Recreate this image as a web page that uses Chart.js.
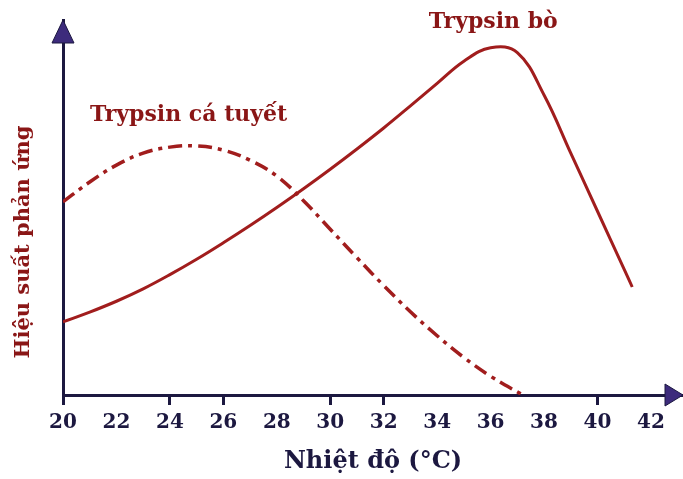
<!DOCTYPE html>
<html>
<head>
<meta charset="utf-8">
<script src="https://cdn.jsdelivr.net/npm/chart.js@4/dist/chart.umd.min.js"></script>
<style>
  html, body { margin: 0; padding: 0; background: #fff; }
  #wrap { width: 683px; height: 479px; }
</style>
</head>
<body>
<div id="wrap"><canvas id="grafico"></canvas></div>
<script>
// Datos
const nhietDoBo = [20, 21, 22, 23, 24, 25, 26, 27, 28, 29, 30, 31, 32, 33, 34, 35, 36, 37, 38, 39, 40, 41, 41.3];
const hieuSuatBo = [19.5, 22.1, 25, 28.3, 32.1, 36.2, 40.6, 45.2, 50, 55, 60.2, 65.6, 71.2, 77.1, 83.1, 89, 92.6, 91.3, 80, 64.5, 49, 33.5, 28.8];

const nhietDoCa = [20, 21, 22, 23, 24, 25, 26, 27, 28, 29, 30, 31, 32, 33, 34, 35, 36, 37.2];
const hieuSuatCa = [51.5, 56.8, 61.3, 64.5, 66.1, 66.4, 65.3, 62.6, 58.4, 51.8, 44.2, 36.6, 29.2, 22.2, 15.8, 10, 5, 0];

const ticksX = [20, 22, 24, 26, 28, 30, 32, 34, 36, 38, 40, 42];
const vachX = [20, 24, 26, 30, 32, 40];

const nhanDuong = [
  { text: 'Trypsin bò', x: 36.1, y: 99.5 },
  { text: 'Trypsin cá tuyết', x: 24.7, y: 74.7 }
];
const tieuDeY = 'Hiệu suất phản ứng';

const mauDuong = '#a11d1d';
const mauChu = '#8a1616';
const mauTruc = '#1c1840';
const mauMuiTen = '#3d2b7c';
const fontSerif = '"DejaVu Serif", "Liberation Serif", serif';

const muiTen = {
  id: 'muiTen',
  afterDraw(chart) {
    const { ctx, chartArea } = chart;
    ctx.save();
    ctx.fillStyle = mauMuiTen;
    ctx.strokeStyle = mauTruc;
    ctx.lineWidth = 1;
    // flecha eje Y
    ctx.beginPath();
    ctx.moveTo(chartArea.left, chartArea.top);
    ctx.lineTo(chartArea.left - 11, chartArea.top + 23);
    ctx.lineTo(chartArea.left + 11, chartArea.top + 23);
    ctx.closePath();
    ctx.fill();
    ctx.stroke();
    // flecha eje X
    ctx.beginPath();
    ctx.moveTo(chartArea.right, chartArea.bottom);
    ctx.lineTo(chartArea.right - 18, chartArea.bottom - 11);
    ctx.lineTo(chartArea.right - 18, chartArea.bottom + 11);
    ctx.closePath();
    ctx.fill();
    ctx.stroke();
    // nombres de las curvas
    const sx = chart.scales.x, sy = chart.scales.y;
    ctx.fillStyle = mauChu;
    ctx.font = 'bold 22px ' + fontSerif;
    ctx.textAlign = 'center';
    ctx.textBaseline = 'middle';
    nhanDuong.forEach(n => {
      ctx.fillText(n.text, sx.getPixelForValue(n.x), sy.getPixelForValue(n.y));
    });
    // título del eje Y
    ctx.translate(24, 242);
    ctx.rotate(-Math.PI / 2);
    ctx.font = 'bold 21px ' + fontSerif;
    ctx.fillText(tieuDeY, 0, 0);
    ctx.restore();
  }
};

const puntos = (xs, ys) => xs.map((x, i) => ({ x: x, y: ys[i] }));

new Chart(document.getElementById('grafico'), {
  type: 'line',
  data: {
    datasets: [
      {
        label: 'Trypsin bò',
        data: puntos(nhietDoBo, hieuSuatBo),
        borderColor: mauDuong,
        borderWidth: 3,
        pointRadius: 0,
        tension: 0.4
      },
      {
        label: 'Trypsin cá tuyết',
        data: puntos(nhietDoCa, hieuSuatCa),
        borderColor: mauDuong,
        borderWidth: 3.5,
        borderDash: [14, 6, 4, 6],
        pointRadius: 0,
        tension: 0.4
      }
    ]
  },
  options: {
    responsive: true,
    maintainAspectRatio: false,
    animation: false,
    layout: { padding: { top: 20, right: 0, left: 0, bottom: 0 } },
    plugins: { legend: { display: false }, tooltip: { enabled: false } },
    scales: {
      x: {
        type: 'linear',
        min: 20,
        max: 43.2,
        afterBuildTicks: s => { s.ticks = ticksX.map(v => ({ value: v })); },
        afterFit: s => { s.height = 84; },
        grid: {
          display: true,
          drawOnChartArea: false,
          tickLength: 10,
          tickWidth: 3,
          tickColor: c => (c.tick && vachX.includes(c.tick.value)) ? mauTruc : 'rgba(0,0,0,0)'
        },
        border: { display: true, color: mauTruc, width: 3 },
        ticks: {
          color: mauTruc,
          padding: 6,
          maxRotation: 0,
          autoSkip: false,
          font: { family: fontSerif, weight: 'bold', size: 20 }
        },
        title: {
          display: true,
          text: 'Nhiệt độ (°C)',
          color: mauTruc,
          padding: { top: 0, bottom: 3 },
          font: { family: fontSerif, weight: 'bold', size: 24 }
        }
      },
      y: {
        min: 0,
        max: 100,
        afterFit: s => { s.width = 63; },
        grid: { display: false },
        border: { display: true, color: mauTruc, width: 3 },
        ticks: { display: false }
      }
    }
  },
  plugins: [muiTen]
});
</script>
</body>
</html>
